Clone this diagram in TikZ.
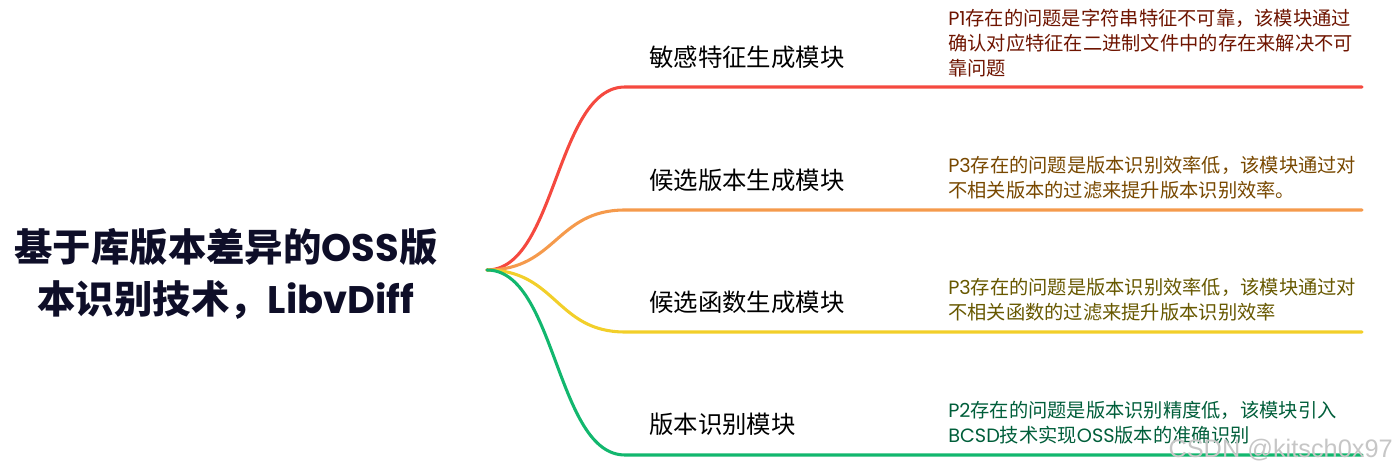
\documentclass[tikz,border=0pt]{standalone}
\usepackage{fontspec}
\setmainfont{Noto Sans CJK SC}
\newfontfamily\latn{Poppins}
\newfontfamily\wmfont{Liberation Sans}
\newcommand\lt[1]{{\latn #1}}
\definecolor{cred}{HTML}{F5493F}
\definecolor{corange}{HTML}{F59A4C}
\definecolor{cyellow}{HTML}{F2CF2A}
\definecolor{cgreen}{HTML}{12B76E}
\definecolor{tred}{HTML}{6E1400}
\definecolor{torange}{HTML}{784800}
\definecolor{tyellow}{HTML}{675800}
\definecolor{tgreen}{HTML}{005E3A}
\definecolor{ttitle}{HTML}{0E0E28}
\begin{document}
\begin{tikzpicture}[x=0.75pt,y=-0.75pt,
  branch/.style={line width=2.3pt,line cap=round},
  modlabel/.style={anchor=west,inner sep=0pt,font=\fontsize{18.3}{22}\selectfont,text=black},
  detail/.style={anchor=west,inner sep=0pt,align=left,font=\fontsize{14.45}{18.75}\selectfont},
  titlebox/.style={align=center,inner sep=0pt,font=\bfseries\fontsize{28.8}{39}\selectfont,text=ttitle}]
\useasboundingbox (0,0) rectangle (1398,473);
\node[titlebox] (root) at (226,274) {基于库版本差异的\lt{OSS}版\\本识别技术，\lt{LibvDiff}};
\coordinate (r) at (487,270);
\coordinate (a1) at (625,87);   \coordinate (e1) at (1362,87);
\coordinate (a2) at (625,210);  \coordinate (e2) at (1362,210);
\coordinate (a3) at (625,332);  \coordinate (e3) at (1362,332);
\coordinate (a4) at (625,455);  \coordinate (e4) at (1362,455);
\draw[branch,cred] (r) .. controls (556,270) and (556,87) .. (a1) -- (e1);
\draw[branch,corange] (r) .. controls (556,270) and (556,210) .. (a2) -- (e2);
\draw[branch,cyellow] (r) .. controls (556,270) and (556,332) .. (a3) -- (e3);
\draw[branch,cgreen] (r) .. controls (556,270) and (556,455) .. (a4) -- (e4);
\node[modlabel] (m1) at (649,57) {敏感特征生成模块};
\node[modlabel] (m2) at (649,180) {候选版本生成模块};
\node[modlabel] (m3) at (649,302) {候选函数生成模块};
\node[modlabel] (m4) at (649,424) {版本识别模块};
\node[detail,text=tred] (d1) at (948,43) {\lt{P1}存在的问题是字符串特征不可靠，该模块通过\\确认对应特征在二进制文件中的存在来解决不可\\靠问题};
\node[detail,text=torange] (d2) at (948,177.5) {\lt{P3}存在的问题是版本识别效率低，该模块通过对\\不相关版本的过滤来提升版本识别效率。};
\node[detail,text=tyellow] (d3) at (948,299.5) {\lt{P3}存在的问题是版本识别效率低，该模块通过对\\不相关函数的过滤来提升版本识别效率};
\node[detail,text=tgreen] (d4) at (948,422.5) {\lt{P2}存在的问题是版本识别精度低，该模块引入\\\lt{BCSD}技术实现\lt{OSS}版本的准确识别};
\node[anchor=east,inner sep=0pt,text=gray!45,font=\wmfont\fontsize{19}{21}\selectfont] (wm) at (1393,450) {CSDN @kitsch0x97};
\end{tikzpicture}
\end{document}
